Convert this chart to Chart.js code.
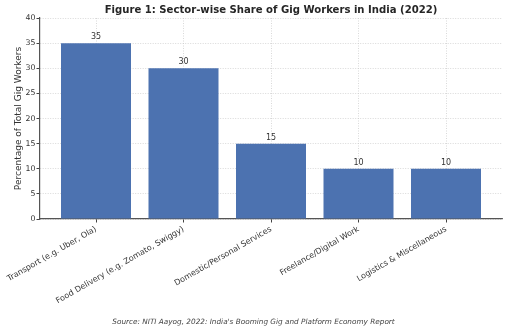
<!DOCTYPE html>
<html>
<head>
<meta charset="utf-8">
<script src="https://cdn.jsdelivr.net/npm/chart.js@4"></script>
<style>
  html, body { margin: 0; padding: 0; background: #ffffff; }
  #wrap { width: 507px; height: 331px; }
</style>
</head>
<body>
<div id="wrap"><canvas id="c" width="507" height="331"></canvas></div>
<script>
// Sector shares of gig workers in India, 2022 (percent)
const sectors = [
  'Transport (e.g. Uber, Ola)',
  'Food Delivery (e.g. Zomato, Swiggy)',
  'Domestic/Personal Services',
  'Freelance/Digital Work',
  'Logistics & Miscellaneous'
];
const shares = [35, 30, 15, 10, 10];
const yTicks = [0, 5, 10, 15, 20, 25, 30, 35, 40];

const titleText = 'Figure 1: Sector-wise Share of Gig Workers in India (2022)';
const sourceText = "Source: NITI Aayog, 2022: India's Booming Gig and Platform Economy Report";

const FONT = "'DejaVu Sans', sans-serif";
const TEXT = '#333333';
const GRID = 'rgba(195,195,195,0.8)';

const points = shares.map((v, i) => ({ x: i, y: v }));

// Value labels above each bar, plus figure title and source note
const annotate = {
  id: 'annotate',
  afterDatasetsDraw(chart) {
    const ctx = chart.ctx;
    const meta = chart.getDatasetMeta(0);
    ctx.save();
    ctx.font = '8px ' + FONT;
    ctx.fillStyle = TEXT;
    ctx.textAlign = 'center';
    ctx.textBaseline = 'bottom';
    meta.data.forEach((bar, i) => {
      ctx.fillText(String(shares[i]), bar.x, bar.y - 2);
    });
    ctx.restore();
  },
  afterDraw(chart) {
    const ctx = chart.ctx;
    const area = chart.chartArea;
    ctx.save();
    ctx.fillStyle = '#262626';
    ctx.font = 'bold 10.1px ' + FONT;
    ctx.textAlign = 'center';
    ctx.textBaseline = 'middle';
    ctx.fillText(titleText, (area.left + area.right) / 2, 10);
    ctx.fillStyle = '#444444';
    ctx.font = 'italic 7.3px ' + FONT;
    ctx.fillText(sourceText, chart.width / 2, 322);
    ctx.restore();
  }
};

const gridOpts = {
  color: GRID,
  lineWidth: 0.8,
  drawTicks: true,
  tickLength: 3.5,
  tickColor: '#444444',
  tickWidth: 1,
  tickBorderDash: [],
  offset: false
};

new Chart(document.getElementById('c'), {
  type: 'bar',
  data: {
    datasets: [{
      data: points,
      backgroundColor: '#4C72B0',
      borderWidth: 0,
      barPercentage: 0.8,
      categoryPercentage: 1.0
    }]
  },
  options: {
    responsive: false,
    animation: false,
    devicePixelRatio: 1,
    layout: { padding: { top: 18, right: 5, left: 0, bottom: 0 } },
    plugins: {
      legend: { display: false },
      tooltip: { enabled: false },
      title: { display: false }
    },
    scales: {
      x: {
        type: 'linear',
        min: -0.64,
        max: 4.64,
        offset: false,
        z: 1,
        afterFit(scale) { scale.height = 112; },
        afterBuildTicks(scale) {
          scale.ticks = sectors.map((_, i) => ({ value: i }));
        },
        ticks: {
          autoSkip: false,
          minRotation: 30,
          maxRotation: 30,
          padding: 2,
          color: TEXT,
          font: { family: FONT, size: 8 },
          callback: (v) => sectors[v] ?? ''
        },
        grid: gridOpts,
        border: { display: true, color: '#555555', width: 1.2, dash: [1, 1.5] }
      },
      y: {
        min: 0,
        max: 40,
        z: 1,
        afterFit(scale) { scale.width = 40; },
        afterBuildTicks(scale) {
          scale.ticks = yTicks.map((v) => ({ value: v }));
        },
        ticks: {
          padding: 1,
          color: TEXT,
          font: { family: FONT, size: 7.8 }
        },
        grid: gridOpts,
        border: { display: true, color: '#555555', width: 1.2, dash: [1, 1.5] },
        title: {
          display: true,
          text: 'Percentage of Total Gig Workers',
          color: TEXT,
          font: { family: FONT, size: 9 },
          padding: { top: 13, bottom: 0 }
        }
      }
    }
  },
  plugins: [annotate]
});
</script>
</body>
</html>
